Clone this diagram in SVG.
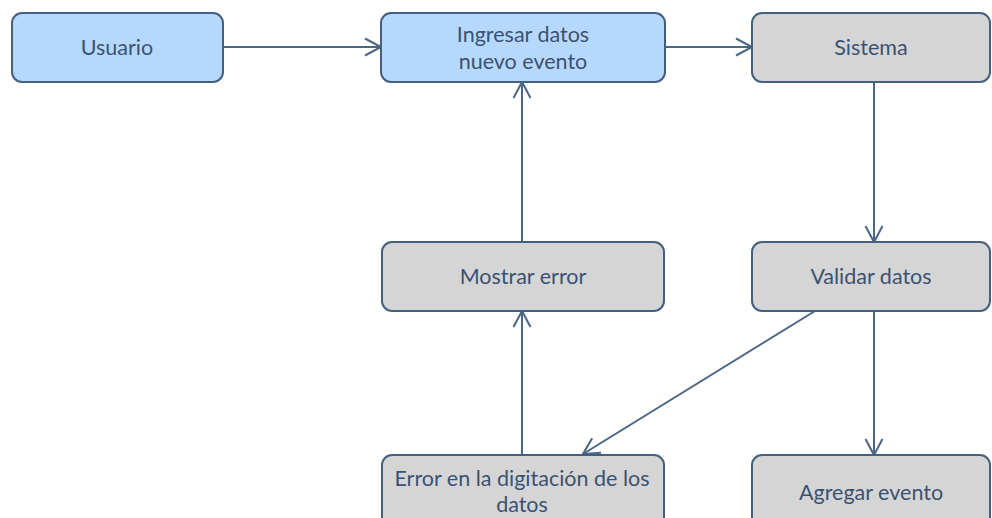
<svg xmlns="http://www.w3.org/2000/svg" width="992" height="518" viewBox="0 0 992 518">
<defs>
<style>
.node rect{stroke:#44607f;stroke-width:2}
.blue rect{fill:#b5d8fc}
.gray rect{fill:#d5d5d5}
.node text{font-family:Lato,"Open Sans",sans-serif;font-size:21.5px;fill:#3a5272;text-anchor:middle;dominant-baseline:central}
.edge{stroke:#4b6686;stroke-width:2;fill:none;marker-end:url(#arr)}
</style>
<marker id="arr" markerUnits="userSpaceOnUse" markerWidth="24" markerHeight="24" viewBox="0 0 24 24" refX="17" refY="12" orient="auto">
<path d="M1,3.5 L17,12 L1,20.5" fill="none" stroke="#4b6686" stroke-width="2"/>
</marker>
</defs>
<rect width="992" height="518" fill="#ffffff"/>
<g id="connectors">
<line class="edge" x1="223" y1="47" x2="381" y2="47"/>
<line class="edge" x1="665" y1="47" x2="752" y2="47"/>
<line class="edge" x1="874" y1="82" x2="874" y2="242"/>
<line class="edge" x1="522" y1="242" x2="522" y2="82"/>
<line class="edge" x1="522" y1="455" x2="522" y2="311"/>
<line class="edge" x1="815" y1="311" x2="583" y2="454"/>
<line class="edge" x1="874" y1="311" x2="874" y2="455"/>
</g>
<g id="usuario" class="node blue"><rect x="12" y="13" width="211" height="69" rx="10"/><text x="117" y="47">Usuario</text></g>
<g id="ingresar" class="node blue"><rect x="381" y="13" width="284" height="69" rx="10"/><text x="523" y="34">Ingresar datos</text><text x="523" y="61">nuevo evento</text></g>
<g id="sistema" class="node gray"><rect x="752" y="13" width="238" height="69" rx="10"/><text x="871" y="47">Sistema</text></g>
<g id="mostrar" class="node gray"><rect x="382" y="242" width="282" height="69" rx="10"/><text x="523" y="276">Mostrar error</text></g>
<g id="validar" class="node gray"><rect x="752" y="242" width="238" height="69" rx="10"/><text x="871" y="276">Validar datos</text></g>
<g id="error" class="node gray"><rect x="382" y="455" width="282" height="75" rx="10"/><text x="522" y="478">Error en la digitación de los</text><text x="522" y="504">datos</text></g>
<g id="agregar" class="node gray"><rect x="752" y="455" width="238" height="75" rx="10"/><text x="871" y="492">Agregar evento</text></g>
</svg>
